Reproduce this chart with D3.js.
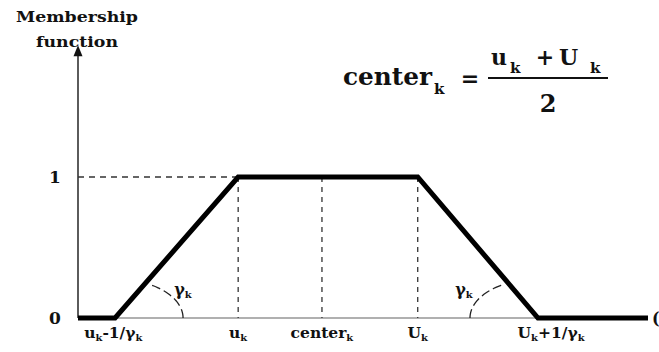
<!DOCTYPE html>
<html><head><meta charset="utf-8">
<script src="https://cdn.jsdelivr.net/npm/d3@7"></script>
<style>
html,body{margin:0;padding:0;background:#fff;}
svg{display:block;}
text{font-family:"DejaVu Serif",serif;font-weight:bold;fill:#111;}
</style></head>
<body>
<svg id="c" width="659" height="352"></svg>
<script>
// ---- data ----
const memX = [0, 0.65, 2.81, 5.96, 8.07, 10];   // trapezoid breakpoints
const memY = [0, 0, 1, 1, 0, 0];                // membership values
const guideX = [2.81, 4.28, 5.96];              // dashed verticals: u_k, center_k, U_k
const yTicks = [0, 1];
const xLabelPos = [0.62, 2.81, 4.28, 5.96, 8.3];
const xLabelMain = ["u", "u", "center", "U", "U"];
const xLabelSub = ["k", "k", "k", "k", "k"];
const xLabelTail = ["-1/γ", "", "", "", "+1/γ"];
const xLabelTailSub = ["k", "", "", "", "k"];
const yAxisTop = 1.92;

const svg = d3.select("#c");
const x = d3.scaleLinear().domain([0, 10]).range([78, 648]);
const y = d3.scaleLinear().domain([0, 1]).range([318, 177]);

// x axis (thin gray)
svg.append("line").attr("x1", x(0)).attr("x2", x(10)).attr("y1", y(0)).attr("y2", y(0))
  .attr("stroke", "#b0b0b0").attr("stroke-width", 2);
svg.append("text").attr("x", 652).attr("y", y(0) + 6).attr("font-size", 16).attr("font-weight", "normal").text("(");

// y axis with arrow
svg.append("line").attr("x1", x(0)).attr("x2", x(0)).attr("y1", y(0)).attr("y2", y(yAxisTop) + 6)
  .attr("stroke", "#333").attr("stroke-width", 1.6);
svg.append("path")
  .attr("d", `M${x(0)},${y(yAxisTop) - 2} L${x(0) - 4.5},${y(yAxisTop) + 9} L${x(0) + 4.5},${y(yAxisTop) + 9} Z`)
  .attr("fill", "#111");

// dashed guides
svg.append("line").attr("x1", x(0)).attr("x2", x(guideX[0])).attr("y1", y(1)).attr("y2", y(1))
  .attr("stroke", "#333").attr("stroke-width", 1.3).attr("stroke-dasharray", "6,5");
svg.selectAll("line.g").data(guideX).join("line").attr("class", "g")
  .attr("x1", d => x(d)).attr("x2", d => x(d)).attr("y1", y(1)).attr("y2", y(0))
  .attr("stroke", "#333").attr("stroke-width", 1.3).attr("stroke-dasharray", "5,5");

// membership function
const pts = memX.map((v, i) => [v, memY[i]]);
svg.append("path").datum(pts)
  .attr("d", d3.line().x(d => x(d[0])).y(d => y(d[1])))
  .attr("fill", "none").attr("stroke", "#000").attr("stroke-width", 5).attr("stroke-linejoin", "miter");

// angle arcs (elliptical, dashed)
function arcPath(cx, cy, rx, ry, t0, t1) {
  const ts = d3.range(0, 31).map(i => t0 + (t1 - t0) * i / 30);
  return d3.line()(ts.map(t => [cx + rx * Math.cos(t), cy - ry * Math.sin(t)]));
}
const deg = Math.PI / 180;
svg.append("path").attr("d", arcPath(x(memX[1]), y(0), 68, 39, 0, 57 * deg))
  .attr("fill", "none").attr("stroke", "#222").attr("stroke-width", 1.3).attr("stroke-dasharray", "9,4");
svg.append("path").attr("d", arcPath(x(memX[4]), y(0), 68, 39, 180 * deg, 121 * deg))
  .attr("fill", "none").attr("stroke", "#222").attr("stroke-width", 1.3).attr("stroke-dasharray", "9,4");

function gamma(xp, yp) {
  const t = svg.append("text").attr("x", xp).attr("y", yp).attr("font-size", 16).attr("text-anchor", "middle");
  t.append("tspan").text("γ");
  t.append("tspan").attr("font-size", 10).attr("dy", 3).text("k");
}
gamma(183, 295);
gamma(464, 295);

// y tick labels
svg.selectAll("text.yt").data(yTicks).join("text").attr("class", "yt")
  .attr("x", 55).attr("y", d => y(d) + 6).attr("text-anchor", "middle").attr("font-size", 17)
  .text(d => d);

// x labels
xLabelPos.forEach((p, i) => {
  const t = svg.append("text").attr("x", x(p)).attr("y", 338).attr("text-anchor", "middle").attr("font-size", 15.5);
  t.append("tspan").text(xLabelMain[i]);
  t.append("tspan").attr("font-size", 10).attr("dy", 3).text(xLabelSub[i]);
  if (xLabelTail[i]) {
    t.append("tspan").attr("dy", -3).text(xLabelTail[i]);
    t.append("tspan").attr("font-size", 10).attr("dy", 3).text(xLabelTailSub[i]);
  }
});

// y axis title
svg.append("text").attr("x", 77).attr("y", 22).attr("text-anchor", "middle").attr("font-size", 15)
  .attr("textLength", 122).attr("lengthAdjust", "spacingAndGlyphs").text("Membership");
svg.append("text").attr("x", 77).attr("y", 47).attr("text-anchor", "middle").attr("font-size", 15)
  .attr("textLength", 82).attr("lengthAdjust", "spacingAndGlyphs").text("function");

// formula
const f = svg.append("g");
f.append("text").attr("x", 343).attr("y", 85).attr("font-size", 24)
  .attr("textLength", 89).attr("lengthAdjust", "spacingAndGlyphs").text("center");
f.append("text").attr("x", 434).attr("y", 94).attr("font-size", 15).text("k");
f.append("text").attr("x", 470).attr("y", 86).attr("text-anchor", "middle").attr("font-size", 22).text("=");
f.append("line").attr("x1", 488).attr("x2", 608).attr("y1", 78).attr("y2", 78).attr("stroke", "#111").attr("stroke-width", 2.2);
f.append("text").attr("x", 491).attr("y", 65).attr("font-size", 22).text("u");
f.append("text").attr("x", 510).attr("y", 73).attr("font-size", 15).text("k");
f.append("text").attr("x", 545).attr("y", 65).attr("text-anchor", "middle").attr("font-size", 22).text("+");
f.append("text").attr("x", 559).attr("y", 65).attr("font-size", 22).text("U");
f.append("text").attr("x", 590).attr("y", 73).attr("font-size", 15).text("k");
f.append("text").attr("x", 548).attr("y", 112).attr("text-anchor", "middle").attr("font-size", 24).text("2");
</script>
</body></html>
